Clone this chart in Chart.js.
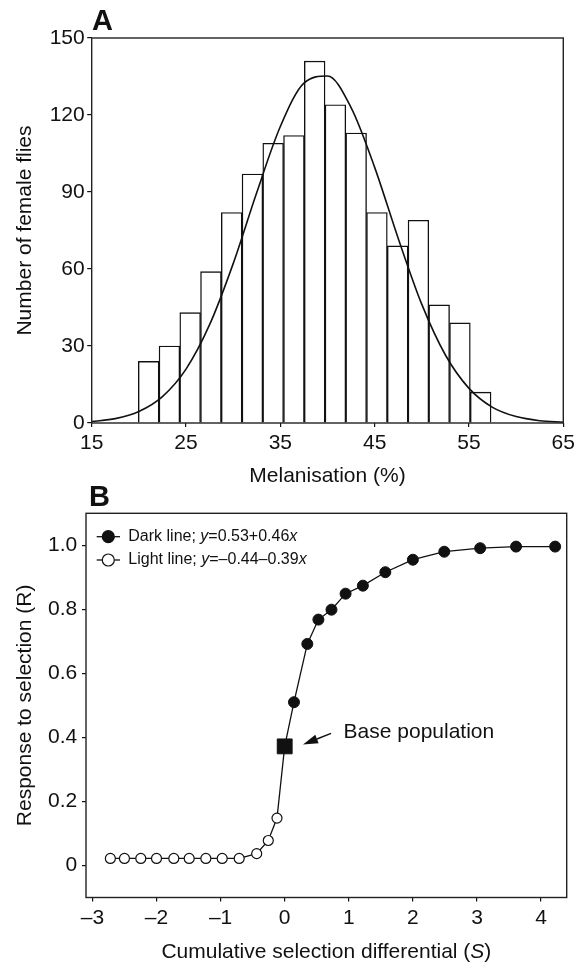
<!DOCTYPE html>
<html>
<head>
<meta charset="utf-8">
<script src="https://cdn.jsdelivr.net/npm/chart.js@4.4.1/dist/chart.umd.min.js"></script>
<style>
  html, body { margin: 0; padding: 0; background: #fff; }
  #wrap { position: relative; width: 584px; height: 966px; }
  canvas { position: absolute; left: 0; }
  #chartA { top: 0; }
  #chartB { top: 480px; }
</style>
</head>
<body>
<div id="wrap">
  <canvas id="chartA" width="584" height="490"></canvas>
  <canvas id="chartB" width="584" height="486"></canvas>
</div>
<script>
// ---- panel A: histogram of melanisation ----
const binCenters = [21.04, 23.24, 25.44, 27.64, 29.84, 32.04, 34.24, 36.44, 38.64,
                    40.84, 43.04, 45.24, 47.44, 49.64, 51.84, 54.04, 56.24];
const binCounts = [24, 30, 43, 59, 82, 97, 109, 112, 141, 124, 113, 82, 69, 79, 46, 39, 12];

// fitted normal curve
const curveX = [15, 17.5, 20, 22.5, 25, 27.5, 30, 32.5, 35, 37.5, 40,
                42.5, 45, 47.5, 50, 52.5, 55, 57.5, 60, 62.5, 65];
const curveY = [0.6, 1.7, 4.5, 10.3, 21.0, 38.3, 62.1, 89.8, 115.5, 132.4, 135.2,
                122.9, 99.6, 71.9, 46.2, 26.5, 13.5, 6.1, 2.5, 0.9, 0.3];

const ticksAx = [15, 25, 35, 45, 55, 65];
const ticksAy = [0, 30, 60, 90, 120, 150];

// ---- panel B: response to selection ----
const lightS = [-2.72, -2.50, -2.245, -2.0, -1.73, -1.49, -1.23, -0.975, -0.71, -0.437, -0.256, -0.12];
const lightR = [0.022, 0.022, 0.022, 0.022, 0.022, 0.022, 0.022, 0.022, 0.022, 0.037, 0.078, 0.148];
const baseS = [0];
const baseR = [0.372];
const darkS = [0.145, 0.353, 0.526, 0.73, 0.95, 1.22, 1.57, 2.0, 2.49, 3.05, 3.61, 4.22];
const darkR = [0.51, 0.692, 0.768, 0.799, 0.849, 0.874, 0.916, 0.955, 0.98, 0.991, 0.996, 0.996];

const ticksBx = [-3, -2, -1, 0, 1, 2, 3, 4];
const ticksBxLabels = ['\u20133', '\u20132', '\u20131', '0', '1', '2', '3', '4'];
const ticksBy = [0, 0.2, 0.4, 0.6, 0.8, 1.0];
const ticksByLabels = ['0', '0.2', '0.4', '0.6', '0.8', '1.0'];

const legendRows = [
  [['Dark line; ', false], ['y', true], ['=0.53+0.46', false], ['x', true]],
  [['Light line; ', false], ['y', true], ['=\u20130.44\u20130.39', false], ['x', true]]
];
const baseLabel = 'Base population';

const ink = '#111';
const fam = '"Liberation Sans", Arial, Helvetica, sans-serif';
Chart.defaults.font.family = fam;
Chart.defaults.color = ink;

const pts = (xs, ys) => xs.map((x, i) => ({ x: x, y: ys[i] }));

function drawRich(ctx, parts, x, y, size, align) {
  const fontOf = it => (it ? 'italic ' : '') + size + 'px ' + fam;
  let total = 0;
  parts.forEach(([t, it]) => { ctx.font = fontOf(it); total += ctx.measureText(t).width; });
  let cx = align === 'center' ? x - total / 2 : x;
  ctx.textAlign = 'left';
  ctx.textBaseline = 'middle';
  parts.forEach(([t, it]) => {
    ctx.font = fontOf(it);
    ctx.fillText(t, cx, y);
    cx += ctx.measureText(t).width;
  });
}

const frame = {
  id: 'frame',
  afterDatasetsDraw(chart) {
    const { ctx, chartArea: a } = chart;
    ctx.save();
    ctx.strokeStyle = '#222';
    ctx.lineWidth = 1.4;
    ctx.strokeRect(a.left, a.top, a.right - a.left, a.bottom - a.top);
    ctx.restore();
  }
};

function letter(txt, x, y) {
  return {
    id: 'letter' + txt,
    afterDraw(chart) {
      const ctx = chart.ctx;
      ctx.save();
      ctx.fillStyle = ink;
      ctx.font = 'bold 29px ' + fam;
      ctx.textAlign = 'left';
      ctx.textBaseline = 'alphabetic';
      ctx.fillText(txt, x, y);
      ctx.restore();
    }
  };
}

function axisBase(tickVals, labels, size) {
  return {
    type: 'linear',
    offset: false,
    afterBuildTicks: s => { s.ticks = tickVals.map(v => ({ value: v })); },
    grid: { drawOnChartArea: false, drawTicks: true, tickLength: 4, color: ink, lineWidth: 1.2, offset: false },
    border: { display: false },
    ticks: {
      color: ink, font: { size: size }, maxRotation: 0, autoSkip: false,
      callback: (v, i) => labels ? labels[i] : v
    }
  };
}

// ---- chart A ----
const ax = axisBase(ticksAx, null, 21);
ax.min = 15; ax.max = 65;
ax.afterFit = s => { s.height = 67; };
ax.ticks.padding = 3.4;
ax.title = { display: true, text: 'Melanisation (%)', color: ink, font: { size: 21 }, padding: { top: 0, bottom: 1.4 } };

const ay = axisBase(ticksAy, null, 21);
ay.min = 0; ay.max = 150;
ay.afterFit = s => { s.width = 91.7; };
ay.ticks.padding = 2.5;
ay.grid.tickLength = 4.5;
ay.title = { display: true, text: 'Number of female flies', color: ink, font: { size: 21 }, padding: { top: 12.4, bottom: 0 } };

new Chart(document.getElementById('chartA'), {
  type: 'bar',
  data: {
    datasets: [
      {
        type: 'line',
        data: pts(curveX, curveY),
        borderColor: ink,
        borderWidth: 1.6,
        pointRadius: 0,
        cubicInterpolationMode: 'monotone',
        order: 0
      },
      {
        type: 'bar',
        data: pts(binCenters, binCounts),
        backgroundColor: '#fff',
        borderColor: ink,
        borderWidth: 1.4,
        barPercentage: 1,
        categoryPercentage: 1,
        order: 1
      }
    ]
  },
  options: {
    responsive: false,
    animation: false,
    devicePixelRatio: 1,
    events: [],
    layout: { padding: { top: 38, right: 20.7, left: 0, bottom: 0 } },
    plugins: { legend: { display: false }, tooltip: { enabled: false } },
    scales: { x: ax, y: ay }
  },
  plugins: [frame, letter('A', 92, 30)]
});

// ---- chart B ----
const bx = axisBase(ticksBx, ticksBxLabels, 21);
bx.min = -3.1; bx.max = 4.4;
bx.afterFit = s => { s.height = 68.5; };
bx.ticks.padding = 3.9;

const by = axisBase(ticksBy, ticksByLabels, 21);
by.min = -0.1; by.max = 1.1;
by.afterFit = s => { s.width = 86; };
by.ticks.padding = 4.7;
by.title = { display: true, text: 'Response to selection (R)', color: ink, font: { size: 21 }, padding: { top: 12.4, bottom: 0 } };

const extrasB = {
  id: 'extrasB',
  afterDraw(chart) {
    const { ctx, chartArea: a, scales: { x, y } } = chart;
    ctx.save();
    ctx.fillStyle = ink;
    ctx.strokeStyle = ink;

    // legend
    const rowY = [a.top + 23.4, a.top + 46.7];
    legendRows.forEach((row, i) => {
      const ly = rowY[i];
      ctx.lineWidth = 1.3;
      ctx.beginPath();
      ctx.moveTo(a.left + 10.7, ly);
      ctx.lineTo(a.left + 34, ly);
      ctx.stroke();
      ctx.beginPath();
      ctx.arc(a.left + 22.3, ly, 6, 0, Math.PI * 2);
      ctx.fillStyle = i === 0 ? ink : '#fff';
      ctx.fill();
      ctx.lineWidth = 1.2;
      ctx.stroke();
      ctx.fillStyle = ink;
      drawRich(ctx, row, a.left + 42.3, ly, 16, 'left');
    });

    // base population arrow
    const tipX = x.getPixelForValue(0.286), tipY = y.getPixelForValue(0.378);
    const tailX = x.getPixelForValue(0.723), tailY = y.getPixelForValue(0.4125);
    const ang = Math.atan2(tipY - tailY, tipX - tailX);
    const hl = 15, hw = 4.5;
    const bxp = tipX - hl * Math.cos(ang), byp = tipY - hl * Math.sin(ang);
    ctx.lineWidth = 1.5;
    ctx.beginPath();
    ctx.moveTo(tailX, tailY);
    ctx.lineTo(bxp, byp);
    ctx.stroke();
    ctx.beginPath();
    ctx.moveTo(tipX, tipY);
    ctx.lineTo(bxp + hw * Math.sin(ang), byp - hw * Math.cos(ang));
    ctx.lineTo(bxp - hw * Math.sin(ang), byp + hw * Math.cos(ang));
    ctx.closePath();
    ctx.fill();
    drawRich(ctx, [[baseLabel, false]], x.getPixelForValue(0.919), y.getPixelForValue(0.4156), 21, 'left');

    // x-axis title with italic S
    drawRich(ctx, [['Cumulative selection differential (', false], ['S', true], [')', false]],
      (a.left + a.right) / 2, chart.height - 14, 21, 'center');
    ctx.restore();
  }
};

new Chart(document.getElementById('chartB'), {
  type: 'scatter',
  data: {
    datasets: [
      {
        data: pts(lightS.concat(baseS, darkS), lightR.concat(baseR, darkR)),
        showLine: true,
        borderColor: ink,
        borderWidth: 1.3,
        pointRadius: 0,
        order: 3
      },
      {
        data: pts(lightS, lightR),
        pointRadius: 5,
        pointBackgroundColor: '#fff',
        pointBorderColor: ink,
        pointBorderWidth: 1.2,
        order: 2
      },
      {
        data: pts(darkS, darkR),
        pointRadius: 5.5,
        pointBackgroundColor: ink,
        pointBorderColor: ink,
        pointBorderWidth: 1,
        order: 1
      },
      {
        data: pts(baseS, baseR),
        pointStyle: 'rect',
        pointRadius: 10.5,
        pointBackgroundColor: ink,
        pointBorderColor: ink,
        pointBorderWidth: 1,
        order: 0
      }
    ]
  },
  options: {
    responsive: false,
    animation: false,
    devicePixelRatio: 1,
    events: [],
    layout: { padding: { top: 33.3, right: 17.3, left: 0, bottom: 0 } },
    plugins: { legend: { display: false }, tooltip: { enabled: false } },
    scales: { x: bx, y: by }
  },
  plugins: [frame, letter('B', 89, 26), extrasB]
});
</script>
</body>
</html>
